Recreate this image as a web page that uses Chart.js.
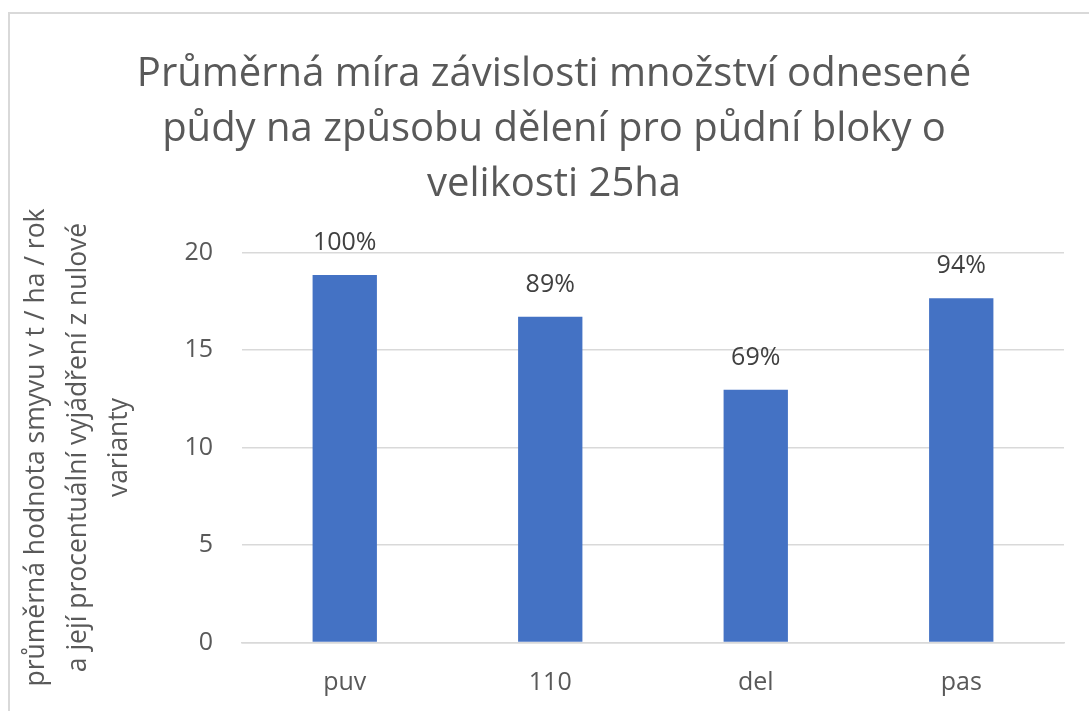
<!DOCTYPE html>
<html lang="cs">
<head>
  <title>Průměrná míra závislosti množství odnesené půdy</title>
  <meta charset="utf-8">
  <script src="https://cdn.jsdelivr.net/npm/chart.js@4/dist/chart.umd.min.js"></script>
  <style>
    html, body { margin: 0; padding: 0; background: #fff; overflow: hidden; }
    .frame {
      position: absolute; left: 8px; top: 12px; width: 1200px; height: 800px;
      border-left: 2px solid #d9d9d9; border-top: 2px solid #d9d9d9;
    }
    .wrap { position: absolute; left: 0; top: 0; width: 1089px; height: 711px; }
  </style>
</head>
<body>
  <div class="frame"></div>
  <div class="wrap"><canvas id="myChart" width="1089" height="711"></canvas></div>

  <script>
    // data
    var categories = ['puv', '110', 'del', 'pas'];
    var smyv = [18.84, 16.70, 12.96, 17.66];          // t / ha / rok
    var percentLabels = ['100%', '89%', '69%', '94%'];
    var yTicks = [0, 5, 10, 15, 20];

    var titleLines = [
      'Průměrná míra závislosti množství odnesené',
      'půdy na způsobu dělení pro půdní bloky o',
      'velikosti 25ha'
    ];
    var yTitleLines = [
      'průměrná hodnota smyvu v t / ha / rok',
      'a její procentuální vyjádření z nulové',
      'varianty'
    ];

    var FONT = "'Open Sans', 'Noto Sans', sans-serif";

    // percent labels above each bar
    var barLabels = {
      id: 'barLabels',
      afterDatasetsDraw: function(chart) {
        var ctx = chart.ctx;
        var meta = chart.getDatasetMeta(0);
        ctx.save();
        ctx.font = '25px ' + FONT;
        ctx.fillStyle = '#404040';
        ctx.textAlign = 'center';
        ctx.textBaseline = 'middle';
        meta.data.forEach(function(bar, i) {
          ctx.fillText(percentLabels[i], bar.x, bar.y - 32);
        });
        ctx.restore();
      }
    };

    var ctx = document.getElementById('myChart').getContext('2d');
    var chart = new Chart(ctx, {
      type: 'bar',
      data: {
        labels: categories,
        datasets: [{
          data: smyv,
          backgroundColor: '#4472C4',
          borderWidth: 0,
          categoryPercentage: 1,
          barPercentage: 0.313
        }]
      },
      options: {
        responsive: false,
        animation: false,
        // left padding shifts the title centre to where it sits in the original
        layout: { padding: { left: 44, right: 25, top: 0, bottom: 0 } },
        plugins: {
          legend: { display: false },
          tooltip: { enabled: false },
          title: {
            display: true,
            text: titleLines,
            color: '#595959',
            font: { family: FONT, size: 40, weight: 'normal', lineHeight: 55 / 40 },
            padding: { top: 47.5, bottom: 40 }
          }
        },
        scales: {
          x: {
            grid: { display: false, drawTicks: false },
            border: { display: true, color: '#d9d9d9', width: 1.5 },
            ticks: { color: '#595959', font: { family: FONT, size: 25 }, padding: 25 },
            afterFit: function(scale) { scale.height = 68.5; }
          },
          y: {
            min: 0,
            max: 20,
            afterBuildTicks: function(scale) {
              scale.ticks = yTicks.map(function(v) { return { value: v }; });
            },
            grid: { color: '#d9d9d9', lineWidth: 1.5, drawTicks: false },
            border: { display: false },
            ticks: { color: '#595959', font: { family: FONT, size: 25 }, padding: 29 },
            title: {
              display: true,
              text: yTitleLines,
              color: '#595959',
              font: { family: FONT, size: 26.5, lineHeight: 41.5 / 26.5 },
              padding: { top: -28, bottom: 0 }   // pull the title back to the left edge
            },
            afterFit: function(scale) { scale.width = 198; }
          }
        }
      },
      plugins: [barLabels]
    });
  </script>
</body>
</html>
